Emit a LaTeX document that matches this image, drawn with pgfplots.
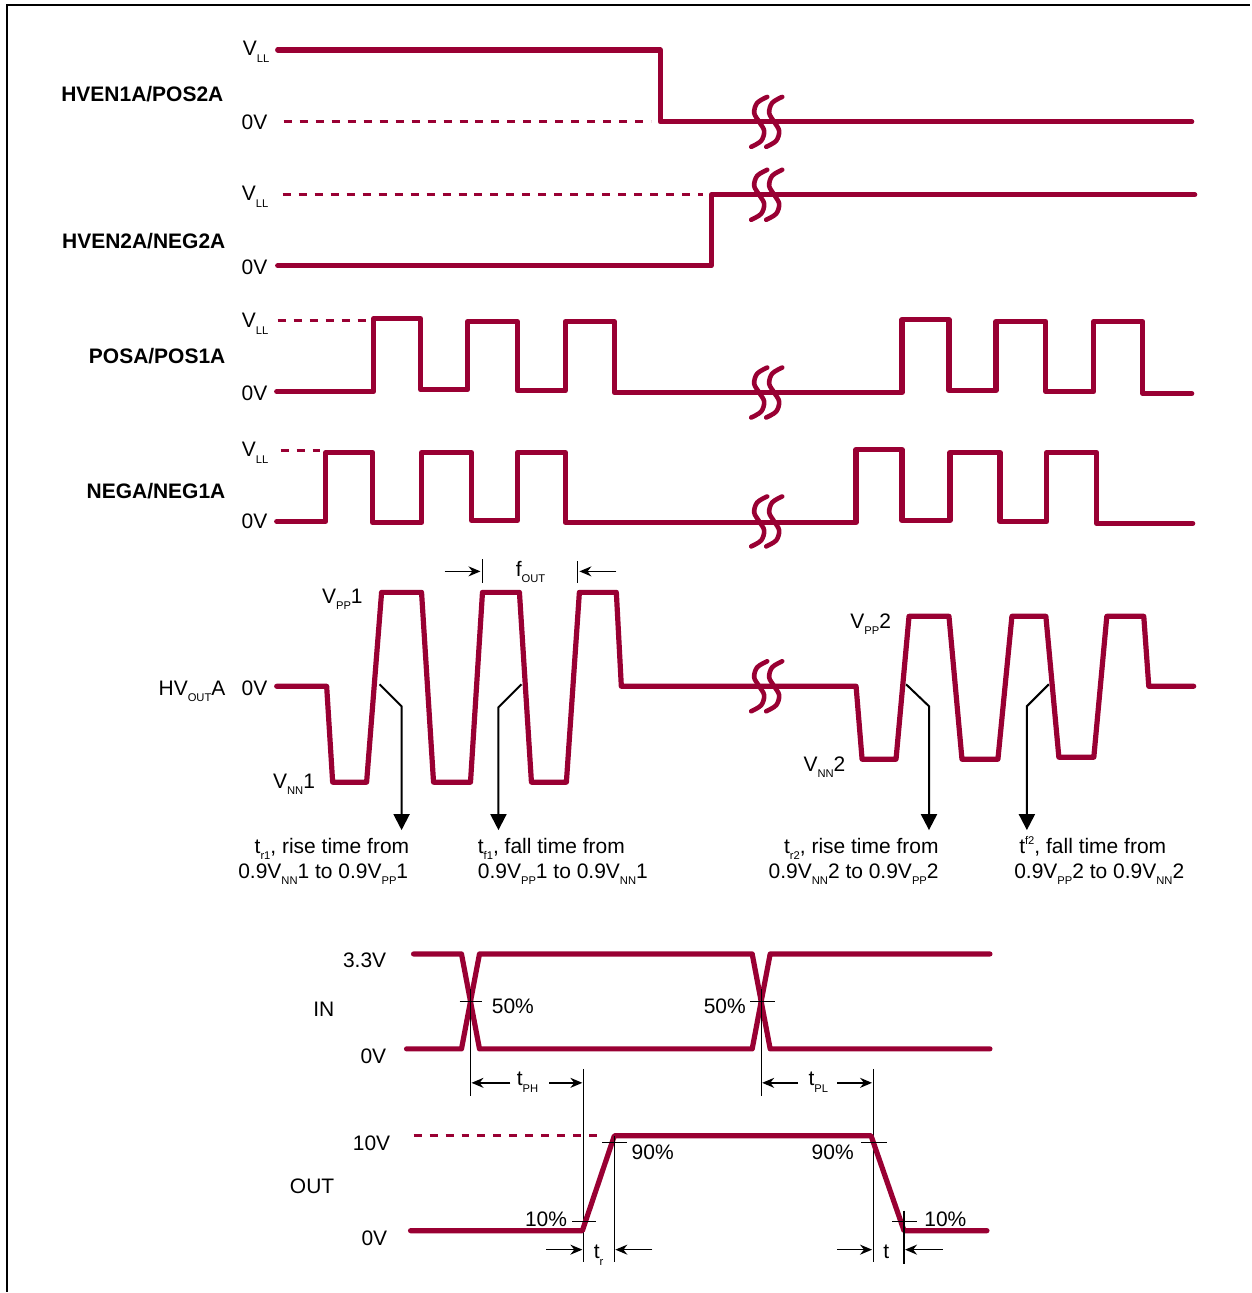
\documentclass[border=0pt]{standalone}
\usepackage{fontspec}
\setmainfont{Liberation Sans}
\usepackage{pgfplots}
\pgfplotsset{compat=1.18}
\usetikzlibrary{arrows.meta}
\definecolor{wred}{RGB}{153,0,51}
\newcommand{\sbs}[1]{\raisebox{-3.3pt}{\fontsize{5.6}{6}\selectfont #1}}
\newcommand{\sps}[1]{\raisebox{4.2pt}{\fontsize{5.6}{6}\selectfont #1}}
\begin{document}
\begin{tikzpicture}[every node/.style={font=\fontsize{10.5}{12.6}\selectfont, inner sep=0pt, yshift=-1pt}]
\begin{axis}[scale only axis, width=625.5pt, height=646.5pt,
  xmin=0, xmax=1251, ymin=0, ymax=1293, y dir=reverse,
  hide axis, clip=false, no markers,
  wr/.style={color=wred, line width=2.6pt, line join=round, line cap=round},
  wrd/.style={color=wred, line width=1.5pt, dash pattern=on 4pt off 4pt},
  brk/.style={color=wred, line width=2.3pt, line cap=round, smooth, tension=0.55},
  ann/.style={black, line width=1pt, -{Triangle[length=8pt,width=8pt]}},
  thin/.style={black, line width=0.55pt},
  tarr/.style={black, line width=0.8pt, -{Stealth[length=6pt,width=5pt]}},
]
% page extent
\addplot[draw=none] coordinates {(0,0) (1251,1293)};
\path (axis cs:0,0) rectangle (axis cs:1251,1293);
% frame
\addplot[black, line width=1.4pt] coordinates {(7,1293) (7,5) (1251,5)};

% Row 1 HVEN1A/POS2A
\addplot[wrd] coordinates {(284,122) (652,122)};
\addplot[wr] coordinates {(278,50) (661,50) (661,122) (1193,122)};
% Row 2 HVEN2A/NEG2A
\addplot[wrd] coordinates {(283,195) (704,195)};
\addplot[wr] coordinates {(278,266) (712,266) (712,195) (1196,195)};
% Row 3 POSA/POS1A
\addplot[wrd] coordinates {(278,321) (366,321)};
\addplot[wr] coordinates {(277,392) (374,392) (374,319) (421,319) (421,390) (468,390) (468,322) (518,322) (518,391) (566,391) (566,322) (615,322) (615,393) (903,393) (903,320) (950,320) (950,391) (997,391) (997,322) (1047,322) (1047,392) (1095,392) (1095,322) (1144,322) (1144,394) (1193,394)};
% Row 4 NEGA/NEG1A
\addplot[wrd] coordinates {(281,451) (320,451)};
\addplot[wr] coordinates {(277,522) (326,522) (326,453) (373,453) (373,523) (422,523) (422,453) (472,453) (472,521) (518,521) (518,453) (566,453) (566,523) (857,523) (857,450) (903,450) (903,521) (951,521) (951,453) (1001,453) (1001,522) (1048,522) (1048,453) (1098,453) (1098,524) (1194,524)};
% Row 5 HVOUTA
\addplot[wr] coordinates {(277,687) (327,687) (333,783) (367,783) (382,593) (422,593) (434,783) (471,783) (483,593) (520,593) (532,783) (567,783) (580,593) (617,593) (622,687) (857,687) (863,760) (897,760) (910,617) (950,617) (963,760) (999,760) (1013,617) (1047,617) (1060,758) (1095,758) (1108,617) (1145,617) (1150,687) (1195,687)};

% break symbols
\addplot[brk] coordinates {(768,97) (758,103) (755,113) (760,122) (765,131) (762,141) (752,147)};
\addplot[brk] coordinates {(783,97) (773,103) (770,113) (775,122) (780,131) (777,141) (767,147)};
\addplot[brk] coordinates {(768,170) (758,176) (755,186) (760,195) (765,204) (762,214) (752,220)};
\addplot[brk] coordinates {(783,170) (773,176) (770,186) (775,195) (780,204) (777,214) (767,220)};
\addplot[brk] coordinates {(768,368) (758,374) (755,384) (760,393) (765,402) (762,412) (752,418)};
\addplot[brk] coordinates {(783,368) (773,374) (770,384) (775,393) (780,402) (777,412) (767,418)};
\addplot[brk] coordinates {(768,497) (758,503) (755,513) (760,522) (765,531) (762,541) (752,547)};
\addplot[brk] coordinates {(783,497) (773,503) (770,513) (775,522) (780,531) (777,541) (767,547)};
\addplot[brk] coordinates {(768,662) (758,668) (755,678) (760,687) (765,696) (762,706) (752,712)};
\addplot[brk] coordinates {(783,662) (773,668) (770,678) (775,687) (780,696) (777,706) (767,712)};

% annotation arrows
\addplot[ann] coordinates {(380,685) (402,707) (402,831)};
\addplot[ann] coordinates {(522,685) (499,708) (499,831)};
\addplot[ann] coordinates {(907,685) (930,707) (930,831)};
\addplot[ann] coordinates {(1050,685) (1028,707) (1028,831)};
% fOUT
\addplot[tarr] coordinates {(445,572) (481,572)};
\addplot[thin, line width=0.8pt] coordinates {(483,560) (483,584)};
\addplot[thin, line width=0.8pt] coordinates {(578,562) (578,584)};
\addplot[tarr] coordinates {(617,572) (580,572)};

% IN
\addplot[wr] coordinates {(414,955) (462,955) (480,1050) (753,1050) (771,955) (991,955)};
\addplot[wr] coordinates {(407,1050) (462,1050) (480,955) (753,955) (771,1050) (991,1050)};
\addplot[thin] coordinates {(460,1003) (483,1003)};
\addplot[thin] coordinates {(471,990) (471,1097)};
\addplot[thin] coordinates {(751,1003) (776,1003)};
\addplot[thin] coordinates {(762,990) (762,1097)};
\addplot[tarr] coordinates {(511,1084) (472,1084)};
\addplot[tarr] coordinates {(550,1084) (583,1084)};
\addplot[thin] coordinates {(584.5,1070) (584.5,1263)};
\addplot[tarr] coordinates {(799,1084) (763,1084)};
\addplot[tarr] coordinates {(838,1084) (873,1084)};
\addplot[thin] coordinates {(874,1070) (874,1263)};

% OUT
\addplot[wrd] coordinates {(414,1137) (598,1137)};
\addplot[wr] coordinates {(411,1232) (583,1232) (615,1137) (872,1137) (905,1232) (988,1232)};
\addplot[thin] coordinates {(603,1144) (628,1144)};
\addplot[thin] coordinates {(615.5,1137) (615.5,1263)};
\addplot[thin] coordinates {(573,1223) (597,1223)};
\addplot[thin] coordinates {(862,1144) (888,1144)};
\addplot[thin] coordinates {(893,1223) (918,1223)};
\addplot[thin] coordinates {(905,1212) (905,1265)};
\addplot[tarr] coordinates {(547,1251) (583,1251)};
\addplot[tarr] coordinates {(653,1251) (616,1251)};
\addplot[tarr] coordinates {(838,1251) (873,1251)};
\addplot[tarr] coordinates {(944,1251) (906,1251)};

% labels rows
\node[anchor=base east] at (axis cs:270,54) {V\sbs{LL}};
\node[anchor=base east] at (axis cs:268,128) {0V};
\node[anchor=base east, font=\fontsize{10.5}{12.6}\selectfont\bfseries] at (axis cs:224,100) {HVEN1A/POS2A};
\node[anchor=base east] at (axis cs:269,199) {V\sbs{LL}};
\node[anchor=base east] at (axis cs:268,273) {0V};
\node[anchor=base east, font=\fontsize{10.5}{12.6}\selectfont\bfseries] at (axis cs:226,247) {HVEN2A/NEG2A};
\node[anchor=base east] at (axis cs:269,326) {V\sbs{LL}};
\node[anchor=base east] at (axis cs:268,399) {0V};
\node[anchor=base east, font=\fontsize{10.5}{12.6}\selectfont\bfseries] at (axis cs:226,362) {POSA/POS1A};
\node[anchor=base east] at (axis cs:269,455) {V\sbs{LL}};
\node[anchor=base east] at (axis cs:268,527) {0V};
\node[anchor=base east, font=\fontsize{10.5}{12.6}\selectfont\bfseries] at (axis cs:226,497) {NEGA/NEG1A};
\node[anchor=base east] at (axis cs:226,694) {HV\sbs{OUT}A};
\node[anchor=base east] at (axis cs:268,694) {0V};

\node[anchor=base west] at (axis cs:322,602) {V\sbs{PP}1};
\node[anchor=base west] at (axis cs:273,787) {V\sbs{NN}1};
\node[anchor=base west] at (axis cs:851,627) {V\sbs{PP}2};
\node[anchor=base west] at (axis cs:804,770) {V\sbs{NN}2};
\node[anchor=base west] at (axis cs:516,575) {f\sbs{OUT}};

\node[anchor=base east] at (axis cs:410,852) {t\sbs{r1}, rise time from};
\node[anchor=base east] at (axis cs:409,877) {0.9V\sbs{NN}1 to 0.9V\sbs{PP}1};
\node[anchor=base west] at (axis cs:478,852) {t\sbs{f1}, fall time from};
\node[anchor=base west] at (axis cs:478,877) {0.9V\sbs{PP}1 to 0.9V\sbs{NN}1};
\node[anchor=base east] at (axis cs:940,852) {t\sbs{r2}, rise time from};
\node[anchor=base east] at (axis cs:940,877) {0.9V\sbs{NN}2 to 0.9V\sbs{PP}2};
\node[anchor=base west] at (axis cs:1020,852) {t\sps{f2}, fall time from};
\node[anchor=base west] at (axis cs:1015,877) {0.9V\sbs{PP}2 to 0.9V\sbs{NN}2};

% bottom labels
\node[anchor=base east] at (axis cs:387,967) {3.3V};
\node[anchor=base east] at (axis cs:335,1016) {IN};
\node[anchor=base east] at (axis cs:387,1063) {0V};
\node[anchor=base east] at (axis cs:391,1150) {10V};
\node[anchor=base east] at (axis cs:335,1193) {OUT};
\node[anchor=base east] at (axis cs:388,1245) {0V};
\node[anchor=base west] at (axis cs:492,1013) {50\%};
\node[anchor=base east] at (axis cs:747,1013) {50\%};
\node[anchor=base west] at (axis cs:517,1085) {t\sbs{PH}};
\node[anchor=base west] at (axis cs:809,1085) {t\sbs{PL}};
\node[anchor=base west] at (axis cs:632,1159) {90\%};
\node[anchor=base east] at (axis cs:855,1159) {90\%};
\node[anchor=base east] at (axis cs:568,1226) {10\%};
\node[anchor=base west] at (axis cs:925,1226) {10\%};
\node[anchor=base west] at (axis cs:594,1258) {t\sbs{r}};
\node[anchor=base west] at (axis cs:884,1258) {t};
\end{axis}
\end{tikzpicture}
\end{document}
